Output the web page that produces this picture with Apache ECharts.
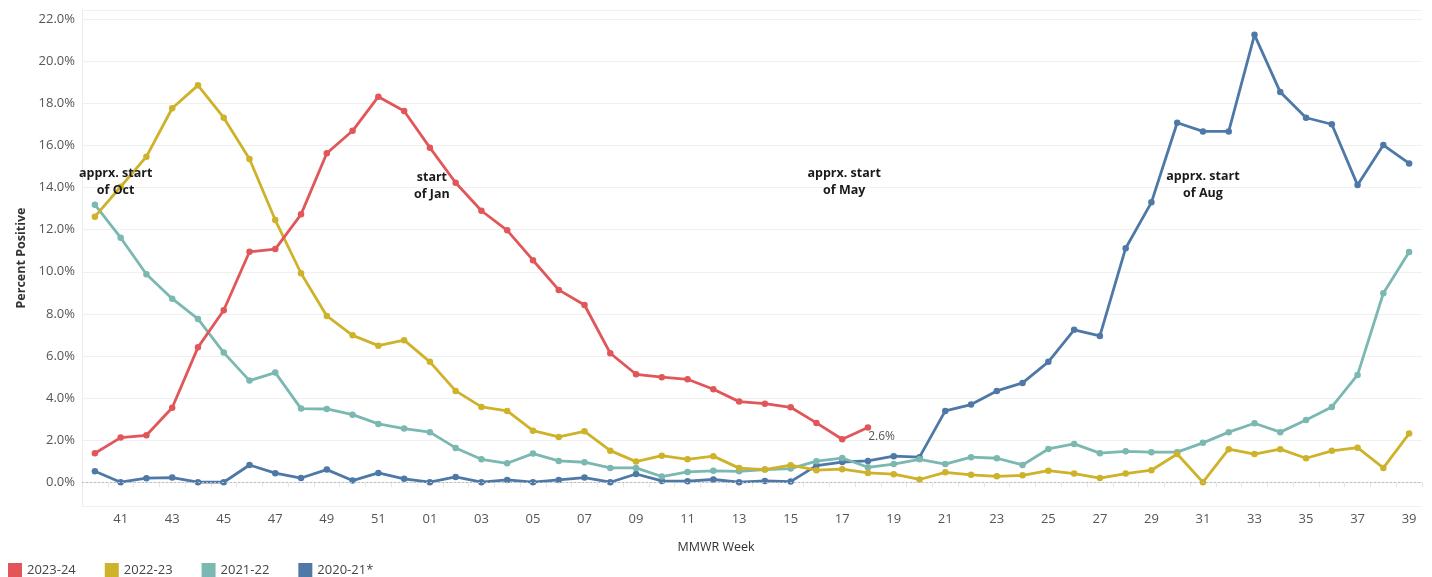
<!DOCTYPE html>
<html>
<head>
<meta charset="utf-8">
<script src="https://cdn.jsdelivr.net/npm/echarts@6/dist/echarts.min.js"></script>
<style>
html,body{margin:0;padding:0;background:#fff;}
#chart{width:1432px;height:577px;}
</style>
</head>
<body>
<div id="chart"></div>
<script>
// MMWR weeks 40..52, 01..39
const weeks = ['40','41','42','43','44','45','46','47','48','49','50','51','52',
  '01','02','03','04','05','06','07','08','09','10','11','12','13','14','15','16','17','18','19','20',
  '21','22','23','24','25','26','27','28','29','30','31','32','33','34','35','36','37','38','39'];

const season2023 = [1.38,2.12,2.23,3.54,6.41,8.17,10.95,11.08,12.73,15.63,16.70,18.32,17.64,
  15.90,14.23,12.90,11.97,10.55,9.14,8.42,6.13,5.13,4.99,4.89,4.42,3.83,3.73,3.56,2.82,2.04,2.6];

const season2022 = [12.62,14.04,15.47,17.77,18.86,17.32,15.36,12.46,9.93,7.90,6.98,6.49,6.75,
  5.72,4.34,3.58,3.39,2.45,2.15,2.42,1.50,0.98,1.26,1.09,1.24,0.67,0.60,0.81,0.57,0.62,0.44,0.38,0.13,
  0.47,0.35,0.28,0.33,0.55,0.41,0.20,0.41,0.57,1.34,0.0,1.57,1.34,1.57,1.14,1.49,1.64,0.68,2.31];

const season2021 = [13.19,11.62,9.88,8.72,7.76,6.16,4.83,5.21,3.50,3.48,3.21,2.77,2.55,
  2.38,1.63,1.09,0.90,1.36,1.01,0.95,0.68,0.68,0.27,0.49,0.54,0.52,0.60,0.65,1.00,1.15,0.71,0.86,1.09,
  0.86,1.19,1.14,0.82,1.58,1.82,1.38,1.47,1.43,1.43,1.87,2.38,2.80,2.38,2.96,3.58,5.10,8.98,10.94];

const season2020 = [0.52,0.0,0.19,0.22,0.0,0.0,0.82,0.43,0.20,0.60,0.08,0.44,0.16,
  0.0,0.25,0.0,0.11,0.0,0.11,0.22,0.0,0.39,0.06,0.05,0.13,0.0,0.06,0.03,0.79,0.96,1.01,1.24,1.19,
  3.39,3.69,4.34,4.72,5.72,7.24,6.95,11.12,13.30,17.08,16.67,16.67,21.26,18.54,17.32,17.01,14.12,16.02,15.15];

const seriesNames = ['2023-24','2022-23','2021-22','2020-21*'];
const seriesColors = ['#e15759','#cdb22a','#7ab8b1','#4e79a7'];

const annotations = [
  {week:'41', value:14.29, text:'apprx. start\nof Oct', dx:-5},
  {week:'01', value:14.07, text:'start\nof Jan', dx:2},
  {week:'17', value:14.29, text:'apprx. start\nof May', dx:2},
  {week:'31', value:14.15, text:'apprx. start\nof Aug', dx:0}
];

const FONT = 'Open Sans';
const chart = echarts.init(document.getElementById('chart'));

function lineSeries(name, color, values, z) {
  return {
    name: name,
    type: 'line',
    data: values,
    z: z,
    symbol: 'circle',
    symbolSize: 6.5,
    showSymbol: true,
    itemStyle: {color: color},
    lineStyle: {color: color, width: 2.8},
    emphasis: {disabled: true},
    animation: false
  };
}

const redData = season2023.map((v, i) => i === season2023.length - 1 ? {
  value: v,
  label: {show: true, position: 'right', offset: [-8, 9], formatter: v.toFixed(1) + '%',
    color: '#555', fontSize: 12, fontFamily: FONT}
} : v);

const sRed = lineSeries(seriesNames[0], seriesColors[0], redData, 5);
const sGold = lineSeries(seriesNames[1], seriesColors[1], season2022, 4);
const sTeal = lineSeries(seriesNames[2], seriesColors[2], season2021, 3);
const sBlue = lineSeries(seriesNames[3], seriesColors[3], season2020, 2);

sBlue.markLine = {
  silent: true, symbol: 'none', label: {show: false},
  lineStyle: {color: '#bdbdbd', type: [2, 2], width: 1},
  data: [{yAxis: 0}]
};
sRed.markPoint = {
  silent: true,
  symbol: 'circle', symbolSize: 0,
  data: annotations.map(a => ({
    coord: [a.week, a.value],
    label: {
      show: true, position: 'inside', offset: [a.dx, 0], formatter: a.text,
      fontFamily: FONT, fontWeight: 'bold', fontSize: 12.5, color: '#1a1a1a',
      lineHeight: 17, align: 'center'
    }
  }))
};

chart.setOption({
  backgroundColor: '#fff',
  animation: false,
  title: {
    text: 'MMWR Week', left: 'center', top: 536,
    textStyle: {fontFamily: FONT, fontSize: 12.5, fontWeight: 'normal', color: '#333'}
  },
  legend: {
    data: seriesNames,
    left: 8, top: 563, padding: 0,
    icon: 'rect', itemWidth: 14, itemHeight: 14, itemGap: 29,
    textStyle: {fontFamily: FONT, fontSize: 13, color: '#444'},
    selectedMode: false
  },
  grid: {left: 82, right: 10, top: 10, bottom: 71, containLabel: false},
  xAxis: {
    type: 'category',
    data: weeks,
    boundaryGap: true,
    axisLine: {show: true, lineStyle: {color: '#e6e6e6'}},
    axisTick: {show: true, interval: 0, length: 5, lineStyle: {color: '#e6e6e6'}},
    axisLabel: {
      interval: (i) => i % 2 === 1,
      margin: 7, fontFamily: FONT, fontSize: 13, color: '#555'
    },
    splitLine: {show: false}
  },
  yAxis: {
    type: 'value',
    min: -1.13, max: 22.44,
    splitNumber: 11,
    name: 'Percent Positive',
    nameLocation: 'middle',
    nameGap: 53,
    nameTextStyle: {fontFamily: FONT, fontSize: 12.5, fontWeight: 'bold', color: '#333'},
    axisLine: {show: true, lineStyle: {color: '#ececec'}},
    axisTick: {show: false},
    axisLabel: {
      showMinLabel: false, showMaxLabel: false,
      margin: 7, fontFamily: FONT, fontSize: 13, color: '#555',
      formatter: (v) => v.toFixed(1) + '%'
    },
    splitLine: {show: true, lineStyle: {color: '#f0f0f0'}}
  },
  series: [sBlue, sTeal, sGold, sRed]
});
</script>
</body>
</html>
